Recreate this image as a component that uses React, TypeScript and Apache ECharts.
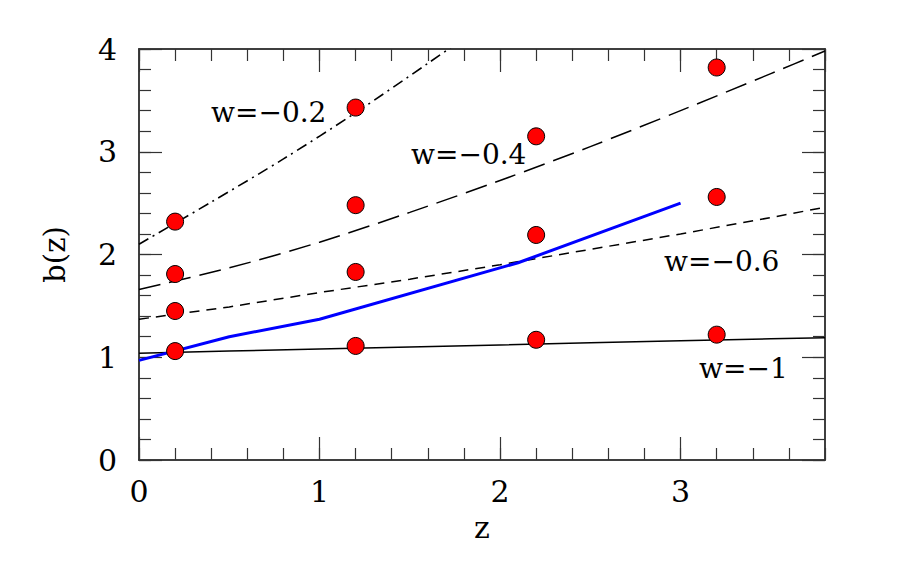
import React, { useEffect, useRef } from "react";
import * as echarts from "echarts";

// Measured points (red circles)
const pointZ = [0.2, 0.2, 0.2, 0.2, 1.2, 1.2, 1.2, 1.2, 2.2, 2.2, 2.2, 3.2, 3.2, 3.2];
const pointB = [2.32, 1.81, 1.45, 1.06, 3.43, 2.48, 1.83, 1.11, 3.15, 2.19, 1.17, 3.82, 2.56, 1.22];

// Model curves
const curveZ = [0, 0.5, 1, 1.5, 2, 2.5, 3, 3.5, 3.8];
const bWm1 = [1.04, 1.06, 1.08, 1.1, 1.12, 1.14, 1.16, 1.18, 1.19];
const bWm06 = [1.37, 1.49, 1.63, 1.76, 1.9, 2.05, 2.2, 2.36, 2.46];
const bWm04 = [1.66, 1.87, 2.12, 2.41, 2.72, 3.05, 3.4, 3.76, 3.98];
const curveZ02 = [0, 0.4, 0.8, 1.2, 1.6, 2.0];
const bWm02 = [2.1, 2.51, 2.93, 3.38, 3.86, 4.35];

// Blue curve
const blueZ = [0, 0.5, 1, 2.1, 3];
const blueB = [0.97, 1.2, 1.37, 1.92, 2.5];

const xTickLabels = ["0", "1", "2", "3"];
const yTickLabels = ["0", "1", "2", "3", "4"];

const labels = ["w=−0.2", "w=−0.4", "w=−0.6", "w=−1"];

const FONT = "DejaVu Serif";

export default function App() {
  const ref = useRef<HTMLDivElement>(null);
  useEffect(() => {
    if (!ref.current) return;
    const chart = echarts.init(ref.current, null, { renderer: "svg" });
    const frame = { show: true, onZero: false, lineStyle: { color: "#333", width: 1.5 } };
    const major = { show: true, inside: true, length: 23, lineStyle: { color: "#333", width: 1.2 } };
    const minor = { show: true, inside: true, length: 12, lineStyle: { color: "#333", width: 1.2 } };
    const gridBox = { left: 139, top: 49, right: 75, bottom: 126, containLabel: false };
    const mkX = (gi: number, pos: string, interval: number, tick: any, extra: any = {}) => ({
      type: "value",
      gridIndex: gi,
      position: pos,
      min: 0,
      max: 3.8,
      interval,
      splitLine: { show: false },
      axisLine: frame,
      axisTick: tick,
      axisLabel: { show: false },
      ...extra,
    });
    const mkY = (gi: number, pos: string, interval: number, tick: any, extra: any = {}) => ({
      type: "value",
      gridIndex: gi,
      position: pos,
      min: 0,
      max: 4,
      interval,
      splitLine: { show: false },
      axisLine: frame,
      axisTick: tick,
      axisLabel: { show: false },
      ...extra,
    });
    const pair = (arr: number[], brr: number[]) => arr.map((z, i) => [z, brr[i]]);
    const labelStyle = (text: string) => ({ text, fontFamily: FONT, fontSize: 28, fill: "#000", textVerticalAlign: "middle" });
    const option = {
      animation: false,
      backgroundColor: "#fff",
      grid: [gridBox, gridBox, gridBox, gridBox],
      xAxis: [
        mkX(0, "bottom", 1, major, {
          name: "z",
          nameLocation: "middle",
          nameGap: 52,
          nameTextStyle: { fontFamily: FONT, fontSize: 30, color: "#000" },
          axisLabel: {
            show: true,
            margin: 16,
            showMaxLabel: false,
            fontFamily: FONT,
            fontSize: 30,
            color: "#000",
            formatter: (v: number) => xTickLabels[Math.round(v)] ?? "",
          },
        }),
        mkX(1, "top", 1, major),
        mkX(2, "bottom", 0.2, minor),
        mkX(3, "top", 0.2, minor),
      ],
      yAxis: [
        mkY(0, "left", 1, major, {
          name: "b(z)",
          nameLocation: "middle",
          nameGap: 70,
          nameTextStyle: { fontFamily: FONT, fontSize: 29, color: "#000" },
          axisLabel: {
            show: true,
            margin: 22,
            fontFamily: FONT,
            fontSize: 30,
            color: "#000",
            formatter: (v: number) => yTickLabels[Math.round(v)] ?? "",
          },
        }),
        mkY(1, "right", 1, major),
        mkY(2, "left", 0.2, minor),
        mkY(3, "right", 0.2, minor),
      ],
      series: [
        {
          type: "line",
          data: pair(curveZ, bWm1),
          symbol: "none",
          lineStyle: { color: "#000", width: 1.5 },
        },
        {
          type: "line",
          data: pair(curveZ, bWm06),
          symbol: "none",
          lineStyle: { color: "#000", width: 1.5, type: [10, 7] },
        },
        {
          type: "line",
          data: pair(curveZ, bWm04),
          symbol: "none",
          smooth: 0.3,
          lineStyle: { color: "#000", width: 1.5, type: [22, 9] },
        },
        {
          type: "line",
          data: pair(curveZ02, bWm02),
          symbol: "none",
          smooth: 0.3,
          lineStyle: { color: "#000", width: 1.6, type: [11, 5, 2, 5] },
        },
        {
          type: "line",
          data: pair(blueZ, blueB),
          symbol: "none",
          lineStyle: { color: "#0000ff", width: 3 },
        },
        {
          type: "scatter",
          data: pair(pointZ, pointB),
          symbol: "circle",
          symbolSize: 17,
          itemStyle: { color: "#ff0000", opacity: 1, borderColor: "#000", borderWidth: 1 },
          z: 5,
        },
      ],
      graphic: [
        { type: "text", x: 211, y: 112, style: labelStyle(labels[0]) },
        { type: "text", x: 411, y: 154, style: labelStyle(labels[1]) },
        { type: "text", x: 664, y: 261, style: labelStyle(labels[2]) },
        { type: "text", x: 699, y: 368, style: labelStyle(labels[3]) },
      ],
    };
    chart.setOption(option as any);
    return () => chart.dispose();
  }, []);
  return (
    <div
      ref={ref}
      style={{ position: "fixed", left: 0, top: 0, width: 900, height: 586, background: "#fff" }}
    />
  );
}
